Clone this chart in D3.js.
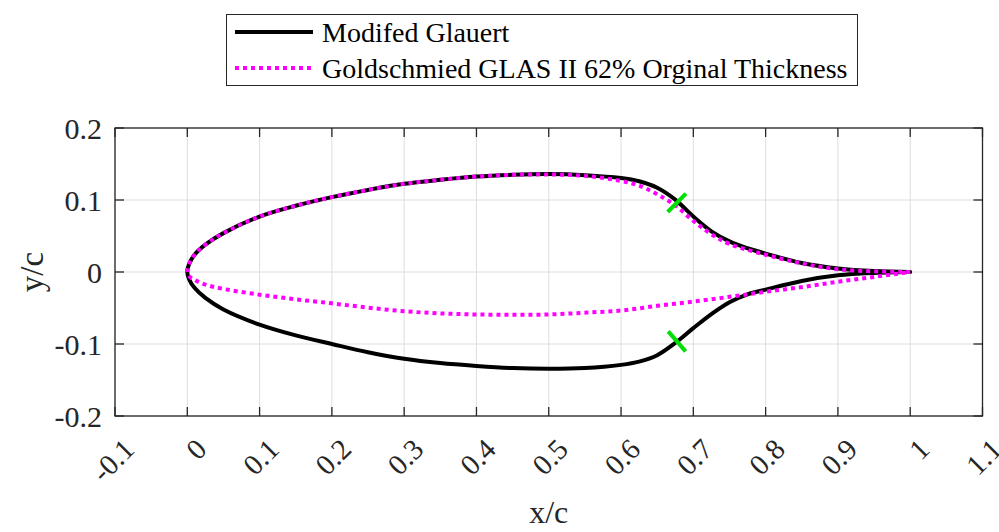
<!DOCTYPE html>
<html>
<head>
<meta charset="utf-8">
<script src="https://cdn.jsdelivr.net/npm/d3@7"></script>
<style>
  html, body { margin: 0; padding: 0; background: #fff; }
  svg { display: block; }
  text { font-family: "Liberation Serif", "Times New Roman", serif; fill: #262626; }
</style>
</head>
<body>
<svg id="chart" width="999" height="532"></svg>
<script>
// Modified Glauert profile, upper and lower surfaces (x/c, y/c)
const glauertX      = [0, 0.0025, 0.01, 0.025, 0.05, 0.1, 0.15, 0.2, 0.25, 0.3, 0.35, 0.4, 0.45, 0.5, 0.55, 0.6, 0.625, 0.65, 0.675, 0.7, 0.725, 0.75, 0.775, 0.8, 0.85, 0.9, 0.95, 1.0];
const glauertUpperY = [0, 0.011, 0.024, 0.038, 0.054, 0.077, 0.092, 0.104, 0.114, 0.1225, 0.128, 0.1325, 0.135, 0.136, 0.1345, 0.1305, 0.126, 0.117, 0.1005, 0.077, 0.0565, 0.0425, 0.033, 0.0255, 0.0125, 0.005, 0.0013, 0];
const glauertLowerY = [0, -0.010, -0.022, -0.036, -0.052, -0.073, -0.088, -0.100, -0.1115, -0.1205, -0.1265, -0.1305, -0.1335, -0.1345, -0.1335, -0.129, -0.1245, -0.1155, -0.0985, -0.078, -0.0585, -0.042, -0.031, -0.0245, -0.0125, -0.0046, -0.0013, 0];

// Goldschmied GLAS II at 62% of its original thickness
const glasUpperX = [0, 0.0025, 0.01, 0.025, 0.05, 0.1, 0.15, 0.2, 0.25, 0.3, 0.35, 0.4, 0.45, 0.5, 0.55, 0.6, 0.625, 0.65, 0.675, 0.7, 0.725, 0.75, 0.8, 0.85, 0.9, 0.95, 1.0];
const glasUpperY = [0, 0.011, 0.024, 0.038, 0.054, 0.077, 0.092, 0.104, 0.114, 0.1225, 0.128, 0.1325, 0.135, 0.1355, 0.1335, 0.1265, 0.120, 0.108, 0.0925, 0.071, 0.0525, 0.039, 0.024, 0.012, 0.0037, 0.001, 0];
const glasLowerX = [0, 0.0025, 0.01, 0.025, 0.05, 0.1, 0.15, 0.2, 0.25, 0.3, 0.35, 0.4, 0.45, 0.5, 0.55, 0.6, 0.65, 0.7, 0.75, 0.8, 0.85, 0.9, 0.95, 1.0];
const glasLowerY = [0, -0.006, -0.011, -0.0175, -0.0235, -0.0315, -0.038, -0.0435, -0.0495, -0.0545, -0.0575, -0.059, -0.0595, -0.059, -0.0565, -0.0535, -0.047, -0.041, -0.0345, -0.0275, -0.021, -0.0135, -0.0068, 0];

// Green tick marks across the surfaces (segment end points, x/c and y/c)
const markX1 = [0.6645, 0.6653];
const markY1 = [0.0833, -0.0825];
const markX2 = [0.6898, 0.6893];
const markY2 = [0.1088, -0.1103];

// Axis ticks
const xTicks = [-0.1, 0, 0.1, 0.2, 0.3, 0.4, 0.5, 0.6, 0.7, 0.8, 0.9, 1, 1.1];
const xTickLabels = ["-0.1", "0", "0.1", "0.2", "0.3", "0.4", "0.5", "0.6", "0.7", "0.8", "0.9", "1", "1.1"];
const yTicks = [-0.2, -0.1, 0, 0.1, 0.2];
const yTickLabels = ["-0.2", "-0.1", "0", "0.1", "0.2"];

const seriesNames = ["Modifed Glauert", "Goldschmied GLAS II 62% Orginal Thickness"];

const svg = d3.select("#chart");
const plot = { left: 115, right: 982.5, top: 128, bottom: 416 };

const x = d3.scaleLinear().domain([-0.1, 1.1]).range([plot.left, plot.right]);
const y = d3.scaleLinear().domain([-0.2, 0.2]).range([plot.bottom, plot.top]);

// grid
const grid = svg.append("g").attr("stroke", "#dedede").attr("stroke-width", 1);
grid.selectAll("line.gx").data(xTicks).enter().append("line")
  .attr("x1", d => x(d)).attr("x2", d => x(d))
  .attr("y1", plot.top).attr("y2", plot.bottom);
grid.selectAll("line.gy").data(yTicks).enter().append("line")
  .attr("y1", d => y(d)).attr("y2", d => y(d))
  .attr("x1", plot.left).attr("x2", plot.right);

// closed outline: upper surface from TE to LE, then lower from LE to TE
function outline(ux, uy, lx, ly) {
  const pts = [];
  for (let i = ux.length - 1; i >= 0; i--) pts.push([ux[i], uy[i]]);
  for (let i = 1; i < lx.length; i++) pts.push([lx[i], ly[i]]);
  return pts;
}
const line = d3.line().x(d => x(d[0])).y(d => y(d[1])).curve(d3.curveCatmullRom.alpha(0.5));

const plotArea = svg.append("g");
plotArea.append("path")
  .attr("d", line(outline(glauertX, glauertUpperY, glauertX, glauertLowerY)))
  .attr("fill", "none").attr("stroke", "#000").attr("stroke-width", 4)
  .attr("stroke-linejoin", "round").attr("stroke-linecap", "round");
plotArea.append("path")
  .attr("d", line(outline(glasUpperX, glasUpperY, glasLowerX, glasLowerY)))
  .attr("fill", "none").attr("stroke", "#ff00ff").attr("stroke-width", 4)
  .attr("stroke-dasharray", "4,4");

plotArea.selectAll("line.mark").data(markX1.map((d, i) => i)).enter().append("line")
  .attr("x1", i => x(markX1[i])).attr("y1", i => y(markY1[i]))
  .attr("x2", i => x(markX2[i])).attr("y2", i => y(markY2[i]))
  .attr("stroke", "#00e000").attr("stroke-width", 4);

// axes box with inward ticks on all four sides
const axes = svg.append("g").attr("stroke", "#262626").attr("stroke-width", 1.3).attr("fill", "none");
axes.append("rect").attr("x", plot.left).attr("y", plot.top)
  .attr("width", plot.right - plot.left).attr("height", plot.bottom - plot.top);
const tl = 9;
xTicks.forEach(t => {
  axes.append("line").attr("x1", x(t)).attr("x2", x(t)).attr("y1", plot.bottom).attr("y2", plot.bottom - tl);
  axes.append("line").attr("x1", x(t)).attr("x2", x(t)).attr("y1", plot.top).attr("y2", plot.top + tl);
});
yTicks.forEach(t => {
  axes.append("line").attr("y1", y(t)).attr("y2", y(t)).attr("x1", plot.left).attr("x2", plot.left + tl);
  axes.append("line").attr("y1", y(t)).attr("y2", y(t)).attr("x1", plot.right).attr("x2", plot.right - tl);
});

// tick labels
svg.append("g").selectAll("text").data(yTicks).enter().append("text")
  .attr("x", 102).attr("y", d => y(d) + 10.5)
  .attr("text-anchor", "end").attr("font-size", 30)
  .text((d, i) => yTickLabels[i]);

svg.append("g").selectAll("text").data(xTicks).enter().append("text")
  .attr("transform", d => `translate(${x(d) + 14},${444}) rotate(-45)`)
  .attr("text-anchor", "end").attr("dominant-baseline", "central").attr("font-size", 29)
  .text((d, i) => xTickLabels[i]);

// axis titles
svg.append("text").attr("x", (plot.left + plot.right) / 2).attr("y", 523)
  .attr("text-anchor", "middle").attr("font-size", 32).text("x/c");
svg.append("text").attr("transform", `translate(43,${y(0)}) rotate(-90)`)
  .attr("text-anchor", "middle").attr("font-size", 33).text("y/c");

// legend
const lg = svg.append("g");
lg.append("rect").attr("x", 226.5).attr("y", 14.5).attr("width", 631).attr("height", 71)
  .attr("fill", "#fff").attr("stroke", "#262626").attr("stroke-width", 1);
const legendRows = [
  { name: seriesNames[0], color: "#000", dash: null, cy: 32 },
  { name: seriesNames[1], color: "#ff00ff", dash: "4,4", cy: 68 }
];
legendRows.forEach(r => {
  lg.append("line").attr("x1", 235).attr("x2", 313).attr("y1", r.cy).attr("y2", r.cy)
    .attr("stroke", r.color).attr("stroke-width", 4)
    .attr("stroke-dasharray", r.dash);
  lg.append("text").attr("x", 322).attr("y", r.cy + 10).attr("font-size", 28)
    .style("fill", "#000").text(r.name);
});
</script>
</body>
</html>
